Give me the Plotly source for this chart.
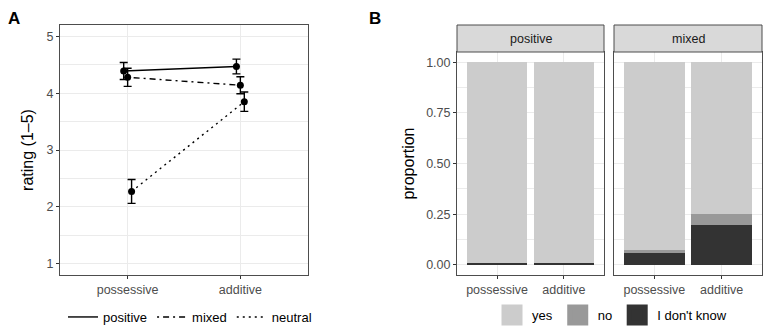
import plotly.graph_objects as go

# ---------------- data ----------------
contexts = ["possessive", "additive"]
conditions = ["positive", "mixed", "neutral"]

rating_positive = [4.39, 4.47]
rating_mixed = [4.28, 4.14]
rating_neutral = [2.27, 3.85]
se_positive = [0.15, 0.13]
se_mixed = [0.16, 0.15]
se_neutral = [0.21, 0.17]

facets = ["positive", "mixed"]
responses = ["yes", "no", "I don't know"]
prop_yes_positive = [0.991, 0.991]
prop_no_positive = [0.0, 0.0]
prop_idk_positive = [0.009, 0.009]
prop_yes_mixed = [0.926, 0.747]
prop_no_mixed = [0.013, 0.056]
prop_idk_mixed = [0.061, 0.197]

y_ticks_a = [1, 2, 3, 4, 5]
y_ticks_b = [0.0, 0.25, 0.5, 0.75, 1.0]

# ---------------- styles ----------------
FONT = "Liberation Sans, Arial, sans-serif"
GRID = "#EBEBEB"
BORDER = "#4d4d4d"
TICKC = "#4D4D4D"
dash_styles = {"positive": "solid", "mixed": "2px,4px,6px,4px", "neutral": "2px,4px"}
fill_colors = {"yes": "#CCCCCC", "no": "#999999", "I don't know": "#333333"}
dodge = 0.035

W, H = 765, 330
def px_x(p):
    return p / W
def px_y(p):
    return 1 - p / H

fig = go.Figure()

# ---------------- panel A ----------------
ratings = {"positive": (rating_positive, se_positive),
           "mixed": (rating_mixed, se_mixed),
           "neutral": (rating_neutral, se_neutral)}
for i, cond in enumerate(conditions):
    vals, errs = ratings[cond]
    xs = [k + 1 + (i - 1) * dodge for k in range(len(contexts))]
    fig.add_trace(go.Scatter(
        x=xs, y=vals, name=cond, mode="lines",
        line=dict(color="black", width=1.4, dash=dash_styles[cond]),
        xaxis="x", yaxis="y", legend="legend",
    ))
    fig.add_trace(go.Scatter(
        x=xs, y=vals, name=cond, mode="markers", showlegend=False,
        marker=dict(color="black", size=7),
        error_y=dict(type="data", array=errs, visible=True, width=4,
                     thickness=1.4, color="black"),
        xaxis="x", yaxis="y",
    ))

# ---------------- panel B ----------------
props = {
    "positive": {"yes": prop_yes_positive, "no": prop_no_positive, "I don't know": prop_idk_positive},
    "mixed": {"yes": prop_yes_mixed, "no": prop_no_mixed, "I don't know": prop_idk_mixed},
}
axes_b = {"positive": ("x2", "y2"), "mixed": ("x3", "y3")}
stack_order = ["I don't know", "no", "yes"]
for fi, facet in enumerate(facets):
    xa, ya = axes_b[facet]
    for resp in stack_order:
        fig.add_trace(go.Bar(
            x=contexts, y=props[facet][resp], name=resp,
            marker=dict(color=fill_colors[resp], line=dict(width=0)),
            xaxis=xa, yaxis=ya, showlegend=False,
        ))

# legend keys for the fill scale (large square swatches, like ggplot keys)
for resp in responses:
    fig.add_trace(go.Scatter(
        x=[None], y=[None], name=resp, mode="markers",
        marker=dict(symbol="square", size=16, color=fill_colors[resp],
                    line=dict(width=5, color=fill_colors[resp])),
        xaxis="x2", yaxis="y2", legend="legend2",
        hoverinfo="skip",
    ))

# ---------------- layout ----------------
dom_a_x = [px_x(60), px_x(308)]
dom_y = [px_y(275), px_y(25)]
dom_b1_x = [px_x(457), px_x(604)]
dom_b2_x = [px_x(614), px_x(762)]
dom_b_y = [px_y(275), px_y(52)]

axis_common = dict(
    showline=True, mirror=True, linecolor=BORDER, linewidth=1,
    ticks="outside", ticklen=3, tickcolor="#333333", tickwidth=1,
    tickfont=dict(family=FONT, size=12.5, color=TICKC),
    gridcolor=GRID, gridwidth=1.1, zeroline=False, showgrid=True,
)

fig.update_layout(
    width=W, height=H, margin=dict(l=0, r=0, t=0, b=0, autoexpand=False),
    paper_bgcolor="white", plot_bgcolor="white",
    font=dict(family=FONT, color="black"),
    barmode="stack", bargap=0.1,
    xaxis=dict(domain=dom_a_x, anchor="y", range=[0.4, 2.6],
               tickmode="array", tickvals=[1, 2], ticktext=contexts, **axis_common),
    yaxis=dict(domain=dom_y, anchor="x", range=[0.8, 5.2],
               tickmode="array", tickvals=y_ticks_a,
               minor=dict(dtick=0.5, tick0=0, showgrid=True, gridcolor=GRID, gridwidth=0.6, ticks=""),
               title=dict(text="rating (1–5)", font=dict(family=FONT, size=16), standoff=8),
               **axis_common),
    xaxis2=dict(domain=dom_b1_x, anchor="y2", range=[-0.6, 1.6], type="category", **axis_common),
    yaxis2=dict(domain=dom_b_y, anchor="x2", range=[-0.05, 1.05],
                tickmode="array", tickvals=y_ticks_b, tickformat=".2f",
                minor=dict(dtick=0.125, tick0=0, showgrid=True, gridcolor=GRID, gridwidth=0.6, ticks=""),
                title=dict(text="proportion", font=dict(family=FONT, size=16), standoff=7),
                **axis_common),
    xaxis3=dict(domain=dom_b2_x, anchor="y3", range=[-0.6, 1.6], type="category", **axis_common),
    yaxis3=dict(domain=dom_b_y, anchor="x3", range=[-0.05, 1.05], matches="y2",
                tickmode="array", tickvals=y_ticks_b, showticklabels=False,
                minor=dict(dtick=0.125, tick0=0, showgrid=True, gridcolor=GRID, gridwidth=0.6, ticks=""),
                **{**axis_common, "ticks": ""}),
    legend=dict(orientation="h", x=px_x(190), xanchor="center", y=px_y(317), yanchor="middle",
                font=dict(family=FONT, size=13, color="black"), bgcolor="rgba(0,0,0,0)",
                itemwidth=30, traceorder="normal"),
    legend2=dict(orientation="h", x=px_x(612), xanchor="center", y=px_y(315), yanchor="middle",
                 font=dict(family=FONT, size=13, color="black"), bgcolor="rgba(0,0,0,0)",
                 itemwidth=30, traceorder="normal"),
)

# strips for facets
shapes = []
annotations = []
for facet, dom in zip(facets, [dom_b1_x, dom_b2_x]):
    shapes.append(dict(type="rect", xref="paper", yref="paper",
                       x0=dom[0], x1=dom[1], y0=px_y(52), y1=px_y(25),
                       fillcolor="#D9D9D9", line=dict(color=BORDER, width=1), layer="above"))
    annotations.append(dict(text=facet, xref="paper", yref="paper",
                            x=(dom[0] + dom[1]) / 2, y=px_y(38.5), showarrow=False,
                            xanchor="center", yanchor="middle",
                            font=dict(family=FONT, size=12.5, color="#1A1A1A")))
# panel tags
annotations.append(dict(text="<b>A</b>", xref="paper", yref="paper", x=px_x(6), y=px_y(18),
                        xanchor="left", yanchor="middle", showarrow=False,
                        font=dict(family=FONT, size=17, color="black")))
annotations.append(dict(text="<b>B</b>", xref="paper", yref="paper", x=px_x(367), y=px_y(18),
                        xanchor="left", yanchor="middle", showarrow=False,
                        font=dict(family=FONT, size=17, color="black")))
fig.update_layout(shapes=shapes, annotations=annotations)

fig.write_html("out.html", config={"displayModeBar": False},
               post_script="document.body.style.margin='0';document.body.style.overflow='hidden';")
